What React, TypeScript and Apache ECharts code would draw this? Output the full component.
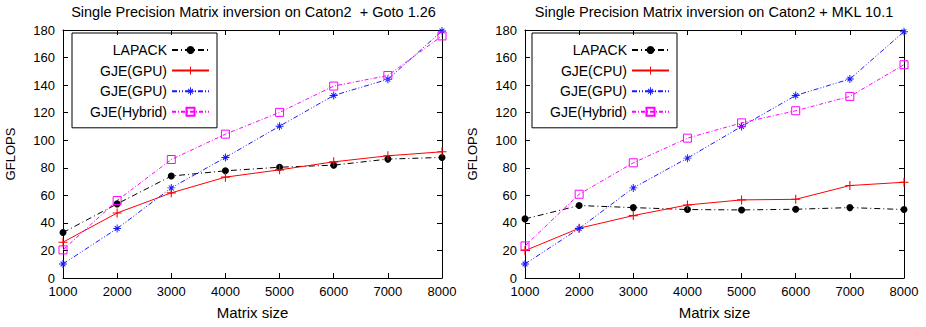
import React, { useEffect, useRef } from 'react';
import * as echarts from 'echarts';

const matrixSizes = [1000, 2000, 3000, 4000, 5000, 6000, 7000, 8000];
const yTicks = { min: 0, max: 180, step: 20 };

const titleLeft = 'Single Precision Matrix inversion on Caton2  + Goto 1.26';
const titleRight = 'Single Precision Matrix inversion on Caton2 + MKL 10.1';

const leftNames = ['LAPACK', 'GJE(GPU)\u200b', 'GJE(GPU)', 'GJE(Hybrid)'];
const rightNames = ['LAPACK', 'GJE(CPU)', 'GJE(GPU)', 'GJE(Hybrid)'];

const leftLapack = [33.0, 53.8, 74.0, 77.8, 80.4, 81.9, 86.3, 87.5];
const leftGjeGpuRed = [26.0, 47.2, 61.8, 73.2, 78.5, 84.3, 88.7, 91.6];
const leftGjeGpu = [10.2, 35.9, 65.4, 87.5, 110.2, 132.5, 144.2, 179.3];
const leftHybrid = [20.4, 56.2, 86.0, 104.4, 120.2, 139.3, 147.0, 175.7];

const rightLapack = [42.9, 52.6, 51.1, 49.7, 49.4, 49.9, 51.1, 49.7];
const rightCpu = [19.9, 36.1, 45.3, 53.0, 56.7, 57.1, 67.1, 69.5];
const rightGpu = [10.2, 35.9, 65.4, 87.0, 110.0, 132.5, 144.4, 178.8];
const rightHybrid = [23.3, 60.8, 83.6, 101.5, 112.6, 121.4, 131.8, 154.8];

const FONT = '"Liberation Sans", Arial, Helvetica, sans-serif';

const PLUS = 'path://M-1,-0.12L1,-0.12L1,0.12L-1,0.12ZM-0.12,-1L0.12,-1L0.12,1L-0.12,1Z';
const STAR =
  'path://M-1,-0.12L1,-0.12L1,0.12L-1,0.12Z' +
  'M-0.12,-1L0.12,-1L0.12,1L-0.12,1Z' +
  'M-0.516,-0.686L0.686,0.516L0.516,0.686L-0.686,-0.516Z' +
  'M-0.686,0.516L0.516,-0.686L0.686,-0.516L-0.516,0.686Z';

const styles = [
  { color: '#000000', dash: [6, 3, 1, 3] as number[] | 'solid', symbol: 'circle', size: 7, hollow: false },
  { color: '#ff0000', dash: 'solid' as number[] | 'solid', symbol: PLUS, size: 9, hollow: false },
  { color: '#1a1aff', dash: [5, 2, 1, 2, 1, 2] as number[] | 'solid', symbol: STAR, size: 8, hollow: false },
  { color: '#ff00ff', dash: [4, 2, 1, 2] as number[] | 'solid', symbol: 'rect', size: 8, hollow: true },
];

function makeSeries(name: string, values: number[], s: typeof styles[number], xi: number, yi: number) {
  return {
    type: 'line',
    name,
    xAxisIndex: xi,
    yAxisIndex: yi,
    data: matrixSizes.map((x, i) => [x, values[i]]),
    symbol: s.symbol,
    symbolSize: s.size,
    showAllSymbol: true,
    lineStyle: { color: s.color, width: 1, type: s.dash },
    itemStyle: s.hollow
      ? { color: 'rgba(0,0,0,0)', borderColor: s.color, borderWidth: 1 }
      : { color: s.color, borderWidth: 0 },
    emphasis: { disabled: true },
  };
}

function xAxes(gi: number) {
  const base = {
    type: 'value',
    gridIndex: gi,
    min: matrixSizes[0],
    max: matrixSizes[matrixSizes.length - 1],
    interval: 1000,
    splitLine: { show: false },
    axisLine: { show: true, onZero: false, lineStyle: { color: '#000', width: 1 } },
    axisTick: { show: true, inside: true, length: 5, lineStyle: { color: '#000' } },
  };
  return [
    {
      ...base,
      position: 'bottom',
      axisLabel: { fontSize: 13, color: '#000', margin: 7, fontFamily: FONT, formatter: (v: number) => String(v) },
      name: 'Matrix size',
      nameLocation: 'middle',
      nameGap: 27,
      nameTextStyle: { fontSize: 15, color: '#000', fontFamily: FONT },
    },
    { ...base, position: 'top', axisLabel: { show: false } },
  ];
}

function yAxes(gi: number) {
  const base = {
    type: 'value',
    gridIndex: gi,
    min: yTicks.min,
    max: yTicks.max,
    interval: yTicks.step,
    splitLine: { show: false },
    axisLine: { show: true, onZero: false, lineStyle: { color: '#000', width: 1 } },
    axisTick: { show: true, inside: true, length: 5, lineStyle: { color: '#000' } },
  };
  return [
    {
      ...base,
      position: 'left',
      axisLabel: { fontSize: 13, color: '#000', margin: 8, fontFamily: FONT },
      name: 'GFLOPS',
      nameLocation: 'middle',
      nameRotate: 90,
      nameGap: 46,
      nameTextStyle: { fontSize: 13, color: '#000', fontFamily: FONT },
    },
    { ...base, position: 'right', axisLabel: { show: false } },
  ];
}

function legend(names: string[], left: number) {
  return {
    orient: 'vertical',
    left,
    top: 33,
    align: 'right',
    data: names,
    itemWidth: 37,
    itemHeight: 10,
    itemGap: 6.6,
    padding: [10, 7, 9, 18],
    borderColor: '#000',
    borderWidth: 1,
    selectedMode: false,
    textStyle: { fontSize: 14, color: '#000', fontFamily: FONT },
    formatter: (n: string) => n.replace('\u200b', ''),
  };
}

const option = {
  animation: false,
  backgroundColor: '#ffffff',
  textStyle: { fontFamily: FONT },
  grid: [
    { left: 63, top: 30, width: 379, height: 248 },
    { left: 525, top: 30, width: 379, height: 248 },
  ],
  xAxis: [...xAxes(0), ...xAxes(1)],
  yAxis: [...yAxes(0), ...yAxes(1)],
  legend: [legend(leftNames, 72), legend(rightNames, 532)],
  graphic: [
    {
      type: 'text',
      x: 253.5,
      y: 12,
      style: { text: titleLeft, textAlign: 'center', textVerticalAlign: 'middle', font: `14.5px ${FONT}`, fill: '#000' },
    },
    {
      type: 'text',
      x: 714,
      y: 12,
      style: { text: titleRight, textAlign: 'center', textVerticalAlign: 'middle', font: `14.5px ${FONT}`, fill: '#000' },
    },
  ],
  series: [
    makeSeries(leftNames[0], leftLapack, styles[0], 0, 0),
    makeSeries(leftNames[1], leftGjeGpuRed, styles[1], 0, 0),
    makeSeries(leftNames[2], leftGjeGpu, styles[2], 0, 0),
    makeSeries(leftNames[3], leftHybrid, styles[3], 0, 0),
    makeSeries(rightNames[0], rightLapack, styles[0], 2, 2),
    makeSeries(rightNames[1], rightCpu, styles[1], 2, 2),
    makeSeries(rightNames[2], rightGpu, styles[2], 2, 2),
    makeSeries(rightNames[3], rightHybrid, styles[3], 2, 2),
  ],
};

export default function App() {
  const ref = useRef<HTMLDivElement>(null);
  useEffect(() => {
    document.body.style.margin = '0';
    const chart = echarts.init(ref.current as HTMLDivElement, null, { renderer: 'svg' });
    chart.setOption(option as any);
    return () => chart.dispose();
  }, []);
  return <div ref={ref} style={{ width: 926, height: 327 }} />;
}
